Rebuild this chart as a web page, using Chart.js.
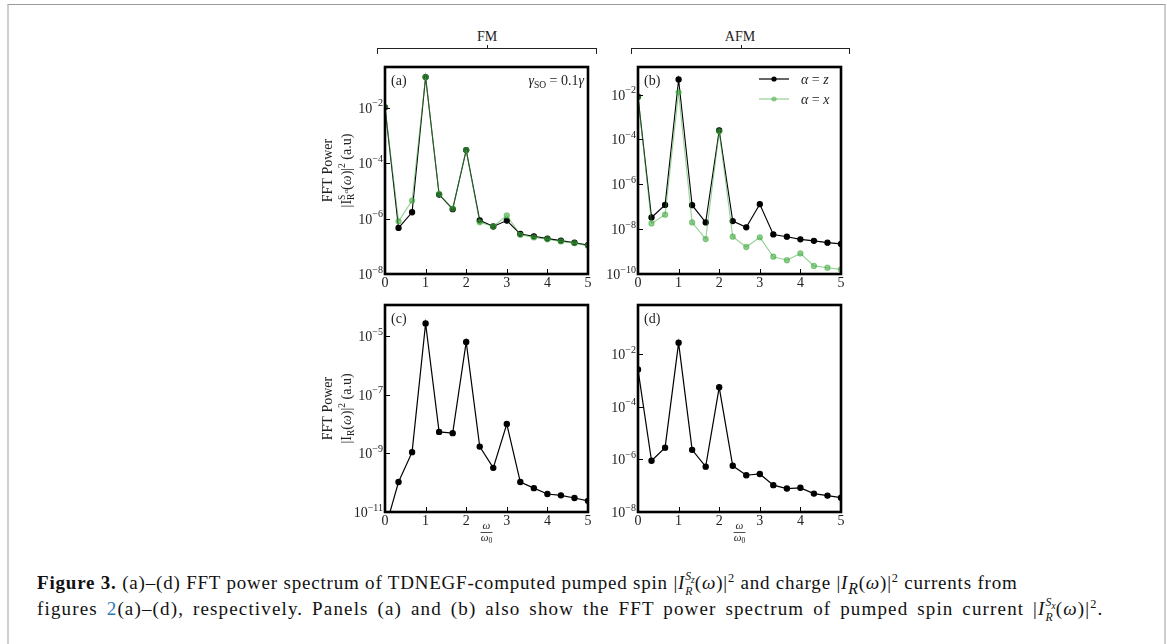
<!DOCTYPE html>
<html>
<head>
<meta charset="utf-8">
<script src="https://cdn.jsdelivr.net/npm/chart.js@4.4.1/dist/chart.umd.min.js"></script>
<style>
body{margin:0;width:1167px;height:644px;background:#fff;position:relative;overflow:hidden;font-family:"Liberation Serif",serif;}
#frame{position:absolute;left:7px;top:4px;width:1155px;height:660px;border-top:1.5px solid #9a9a9a;border-left:2px solid #cfcfcf;border-right:2px solid #cfcfcf;}
canvas{position:absolute;}
.br{position:absolute;top:48px;height:5px;border:1.3px solid #222;border-bottom:none;}
.br i{position:absolute;left:50%;top:-4px;height:3px;border-left:1.3px solid #222;}
.grp{position:absolute;top:29px;font-size:14px;color:#222;transform:translateX(-50%);}
#cap{position:absolute;left:37px;top:570px;font-size:19px;line-height:26px;color:#111;white-space:nowrap;}
#cap > div{height:26px;}
#l1{letter-spacing:0.8px;}
#l2{letter-spacing:1.15px;word-spacing:3px;}
sup,sub{line-height:0;}
.ss{position:relative;display:inline-block;font-size:0.62em;font-style:italic;line-height:1;letter-spacing:0;}
.ss .hi{position:relative;top:-0.75em;}
.ss .hi sub{font-size:0.8em;vertical-align:-0.3em;}
.ss .lo{position:absolute;left:0;top:0.55em;}
sup.p{font-size:0.65em;}
.lnk{color:#2b7bb9;}
</style>
</head>
<body>
<div id="frame"></div>
<div class="br" style="left:377px;width:218px"><i></i></div>
<div class="grp" style="left:487px">FM</div>
<div class="br" style="left:631px;width:217px"><i></i></div>
<div class="grp" style="left:740px">AFM</div>

<canvas id="pa" width="300" height="245" style="left:300px;top:55px"></canvas>
<canvas id="pb" width="300" height="245" style="left:553px;top:55px"></canvas>
<canvas id="pc" width="300" height="260" style="left:300px;top:293px"></canvas>
<canvas id="pd" width="300" height="260" style="left:553px;top:293px"></canvas>

<div id="cap">
<div id="l1"><b>Figure 3.</b> (a)–(d) FFT power spectrum of TDNEGF-computed pumped spin |<i>I</i><span class="ss"><span class="hi">S<sub>z</sub></span><span class="lo">R</span></span>(<i>ω</i>)|<sup class="p">2</sup> and charge |<i>I<sub>R</sub></i>(<i>ω</i>)|<sup class="p">2</sup> currents from</div>
<div id="l2">figures <span class="lnk">2</span>(a)–(d), respectively. Panels (a) and (b) also show the FFT power spectrum of pumped spin current |<i>I</i><span class="ss"><span class="hi">S<sub>x</sub></span><span class="lo">R</span></span>(<i>ω</i>)|<sup class="p">2</sup>.</div>
</div>

<script>
// frequency axis, omega / omega_0
const omega = [0, 0.333, 0.667, 1, 1.333, 1.667, 2, 2.333, 2.667, 3, 3.333, 3.667, 4, 4.333, 4.667, 5];

// (a) FM spin current, alpha = z and alpha = x
const fmZ = [1.05e-2, 4.6e-7, 1.7e-6, 0.13, 7.4e-6, 2.2e-6, 3.0e-4, 8.7e-7, 5.2e-7, 8.5e-7, 2.8e-7, 2.3e-7, 1.9e-7, 1.6e-7, 1.35e-7, 1.1e-7];
const fmX = [1.05e-2, 8.0e-7, 4.5e-6, 0.13, 7.8e-6, 2.3e-6, 3.0e-4, 7.4e-7, 5.2e-7, 1.3e-6, 2.6e-7, 2.1e-7, 1.8e-7, 1.5e-7, 1.3e-7, 1.05e-7];
// (b) AFM spin current
const afmZ = [8e-3, 3.3e-8, 1.2e-7, 0.047, 1.17e-7, 2.0e-8, 2.5e-4, 2.3e-8, 1.2e-8, 1.3e-7, 5.8e-9, 4.6e-9, 3.5e-9, 3.0e-9, 2.5e-9, 2.2e-9];
const afmX = [8e-3, 1.8e-8, 4.4e-8, 0.0126, 2.0e-8, 3.6e-9, 2.3e-4, 4.6e-9, 1.6e-9, 4.3e-9, 5.9e-10, 4.1e-10, 8.3e-10, 2.3e-10, 1.9e-10, 1.6e-10];
// (c) FM charge current, (d) AFM charge current
const fmQ = [2.5e-12, 1.05e-10, 1.1e-9, 2.7e-5, 5.4e-9, 4.9e-9, 6.3e-6, 1.7e-9, 3.2e-10, 1.0e-8, 1.05e-10, 6.5e-11, 4.1e-11, 3.7e-11, 3.0e-11, 2.4e-11];
const afmQ = [2.6e-3, 8.9e-7, 2.8e-6, 0.027, 2.3e-6, 5.3e-7, 5.5e-4, 5.7e-7, 2.5e-7, 2.8e-7, 1.05e-7, 7.8e-8, 8.3e-8, 5.0e-8, 4.2e-8, 3.5e-8];

// ticks (y labels are the exponents of 10)
const xTicks = [0, 1, 2, 3, 4, 5];
const yTicksA = [1e-8, 1e-6, 1e-4, 1e-2];
const yLabelsA = ['−8', '−6', '−4', '−2'];
const yTicksB = [1e-10, 1e-8, 1e-6, 1e-4, 1e-2];
const yLabelsB = ['−10', '−8', '−6', '−4', '−2'];
const yTicksC = [1e-11, 1e-9, 1e-7, 1e-5];
const yLabelsC = ['−11', '−9', '−7', '−5'];
const yTicksD = [1e-8, 1e-6, 1e-4, 1e-2];
const yLabelsD = ['−8', '−6', '−4', '−2'];

const SERIF = '"Liberation Serif", "DejaVu Serif", serif';
const INK = '#222';
const GREEN = 'rgba(60,170,60,0.55)';

function pts(arr){
    return omega.map((w, i) => ({x: w, y: arr[i]}));
}

// text with sub/superscripts: [text, size, dy, italic, noAdvance]
function fontOf(p){
    return (p[3] ? 'italic ' : '') + p[1] + 'px ' + SERIF;
}
function richWidth(ctx, parts){
    let w = 0, hold = 0;
    parts.forEach(p => {
        ctx.font = fontOf(p);
        const m = ctx.measureText(p[0]).width;
        if(p[4]){ hold = Math.max(hold, m); } else { w += Math.max(m, hold); hold = 0; }
    });
    return w + hold;
}
function rich(ctx, parts, x, y, align){
    let cx = x;
    if(align == 'center') cx = x - richWidth(ctx, parts) / 2;
    if(align == 'right') cx = x - richWidth(ctx, parts);
    let hold = 0;
    ctx.textAlign = 'left';
    ctx.textBaseline = 'alphabetic';
    parts.forEach(p => {
        ctx.font = fontOf(p);
        ctx.fillText(p[0], cx, y + (p[2] || 0));
        const m = ctx.measureText(p[0]).width;
        if(p[4]){ hold = Math.max(hold, m); } else { cx += Math.max(m, hold); hold = 0; }
    });
}

const deco = {
    id: 'deco',
    afterDraw(chart, args, o){
        const ctx = chart.ctx, a = chart.chartArea;
        const sx = chart.scales.x, sy = chart.scales.y;
        ctx.save();
        ctx.strokeStyle = '#000';
        ctx.lineWidth = 1;
        ctx.beginPath();
        sy.ticks.forEach(t => {
            const p = Math.round(sy.getPixelForValue(t.value)) + 0.5;
            ctx.moveTo(a.left, p); ctx.lineTo(a.left + 5, p);
        });
        sx.ticks.forEach(t => {
            const p = Math.round(sx.getPixelForValue(t.value)) + 0.5;
            ctx.moveTo(p, a.bottom); ctx.lineTo(p, a.bottom - 5);
        });
        ctx.stroke();
        ctx.lineWidth = 2.6;
        ctx.strokeRect(a.left, a.top, a.right - a.left, a.bottom - a.top);

        // y tick labels 10^n
        ctx.fillStyle = INK;
        sy.ticks.forEach((t, i) => {
            const p = sy.getPixelForValue(t.value);
            rich(ctx, [['10', 14], [o.ylabels[i], 10, -6.5]], a.left - 2, p + 5, 'right');
        });

        rich(ctx, [[o.letter, 14]], a.left + 6, a.top + 18, 'left');

        if(o.ylabel){
            const cy = (a.top + a.bottom) / 2;
            ctx.save();
            ctx.translate(a.left - 58, cy);
            ctx.rotate(-Math.PI / 2);
            rich(ctx, [['FFT Power', 14]], 0, 5, 'center');
            ctx.restore();
            ctx.save();
            ctx.translate(a.left - 39, cy);
            ctx.rotate(-Math.PI / 2);
            rich(ctx, o.ylabel, 0, 5, 'center');
            ctx.restore();
        }
        if(o.gamma){
            rich(ctx, [['γ', 14, 0, 1], ['SO', 9.5, 3], [' = 0.1', 14], ['γ', 14, 0, 1]], a.right - 4, a.top + 18, 'right');
        }
        if(o.legend){
            o.legend.forEach((row, i) => {
                const y = a.top + 12 + i * 20;
                ctx.strokeStyle = row[1];
                ctx.fillStyle = row[1];
                ctx.lineWidth = 1.2;
                ctx.beginPath();
                ctx.moveTo(a.right - 82, y); ctx.lineTo(a.right - 52, y);
                ctx.stroke();
                ctx.beginPath();
                ctx.arc(a.right - 67, y, 2.6, 0, Math.PI * 2);
                ctx.fill();
                ctx.fillStyle = INK;
                rich(ctx, [['α', 14, 0, 1], [' = ', 14], [row[0], 14, 0, 1]], a.right - 40, y + 5, 'left');
            });
        }
        if(o.xlabel){
            const cx = (a.left + a.right) / 2;
            ctx.fillStyle = INK;
            rich(ctx, [['ω', 11, 0, 1]], cx, a.bottom + 17, 'center');
            ctx.strokeStyle = INK;
            ctx.lineWidth = 0.8;
            ctx.beginPath();
            ctx.moveTo(cx - 6, a.bottom + 20.5); ctx.lineTo(cx + 6, a.bottom + 20.5);
            ctx.stroke();
            rich(ctx, [['ω', 11, 0, 1], ['0', 7.5, 2]], cx, a.bottom + 29, 'center');
        }
        ctx.restore();
    }
};

function panel(id, datasets, yMin, yMax, yTicks, extra, bottomPad){
    return new Chart(document.getElementById(id), {
        type: 'line',
        data: { datasets: datasets },
        options: {
            responsive: false,
            animation: false,
            layout: { padding: { top: 12, right: 12, bottom: bottomPad, left: 0 } },
            elements: {
                line: { tension: 0 },
                point: { radius: 2.6, borderWidth: 0, hoverRadius: 2.6 }
            },
            plugins: {
                legend: { display: false },
                tooltip: { enabled: false },
                deco: extra
            },
            scales: {
                x: {
                    type: 'linear', min: 0, max: 5,
                    afterBuildTicks: s => { s.ticks = xTicks.map(v => ({value: v})); },
                    afterFit: s => { s.height = 22; },
                    grid: { display: false, drawTicks: false },
                    border: { display: false },
                    ticks: { font: { family: SERIF, size: 14 }, color: INK, padding: 1, maxRotation: 0, autoSkip: false,
                             callback: (v, i) => String(xTicks[i]) }
                },
                y: {
                    type: 'logarithmic', min: yMin, max: yMax, bounds: 'data',
                    afterBuildTicks: s => { s.ticks = yTicks.map(v => ({value: v})); },
                    afterFit: s => { s.width = 85; },
                    grid: { display: false, drawTicks: false },
                    border: { display: false },
                    ticks: { display: false }
                }
            }
        },
        plugins: [deco]
    });
}

function serie(arr, color, width, order){
    return { data: pts(arr), borderColor: color, backgroundColor: color, pointBackgroundColor: color,
             borderWidth: width, order: order };
}

const spinLabel = [['|I', 14], ['R', 9.5, 3, 0, 1], ['S', 9.5, -6], ['α', 7, -3.5, 1], ['(', 14], ['ω', 14, 0, 1], [')|', 14], ['2', 9.5, -6], [' (a.u)', 14]];
const chargeLabel = [['|I', 14], ['R', 9.5, 3], ['(', 14], ['ω', 14, 0, 1], [')|', 14], ['2', 9.5, -6], [' (a.u)', 14]];

panel('pa', [serie(fmZ, '#000', 1.1, 2), serie(fmX, GREEN, 1.1, 1)], 1e-8, 0.3, yTicksA,
      { letter: '(a)', ylabels: yLabelsA, ylabel: spinLabel, gamma: true }, 4);
panel('pb', [serie(afmZ, '#000', 1.1, 2), serie(afmX, GREEN, 1.1, 1)], 1e-10, 0.17, yTicksB,
      { letter: '(b)', ylabels: yLabelsB, legend: [['z', '#000'], ['x', GREEN]] }, 4);
panel('pc', [serie(fmQ, '#000', 1.2, 1)], 1e-11, 1.15e-4, yTicksC,
      { letter: '(c)', ylabels: yLabelsC, ylabel: chargeLabel, xlabel: true }, 19);
panel('pd', [serie(afmQ, '#000', 1.2, 1)], 1e-8, 0.74, yTicksD,
      { letter: '(d)', ylabels: yLabelsD, xlabel: true }, 19);
</script>
</body>
</html>
